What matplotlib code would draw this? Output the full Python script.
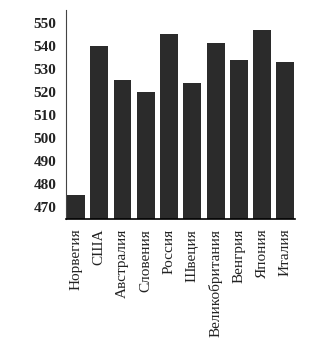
import matplotlib.pyplot as plt
import numpy as np

countries = ['Норвегия', 'США', 'Австралия', 'Словения', 'Россия', 'Швеция',
             'Великобритания', 'Венгрия', 'Япония', 'Италия']
scores = [475, 540, 525, 520, 545, 524, 541, 534, 547, 533]
yticks = [470, 480, 490, 500, 510, 520, 530, 540, 550]

plt.rcParams['font.family'] = ['Liberation Serif', 'DejaVu Serif']

fig = plt.figure(figsize=(3.23, 3.47), dpi=100)
ax = fig.add_axes([0.204, 0.369, 0.71, 0.602])

x = np.arange(len(countries))
ax.bar(x, scores, width=0.77, color='#2b2b2b')

ax.set_ylim(464.7, 555.5)
ax.set_xlim(-0.43, 9.42)
ax.set_yticks(yticks)
ax.set_yticklabels([str(t) for t in yticks], fontsize=11, fontweight='bold', color='#222222')
ax.set_xticks(x)
ax.set_xticklabels(countries, rotation=90, fontsize=11, color='#222222')
ax.tick_params(axis='both', length=0, pad=7)

ax.spines['top'].set_visible(False)
ax.spines['right'].set_visible(False)
ax.spines['left'].set_color('#444444')
ax.spines['bottom'].set_linewidth(1.2)

fig.savefig('out.png', dpi=100)
